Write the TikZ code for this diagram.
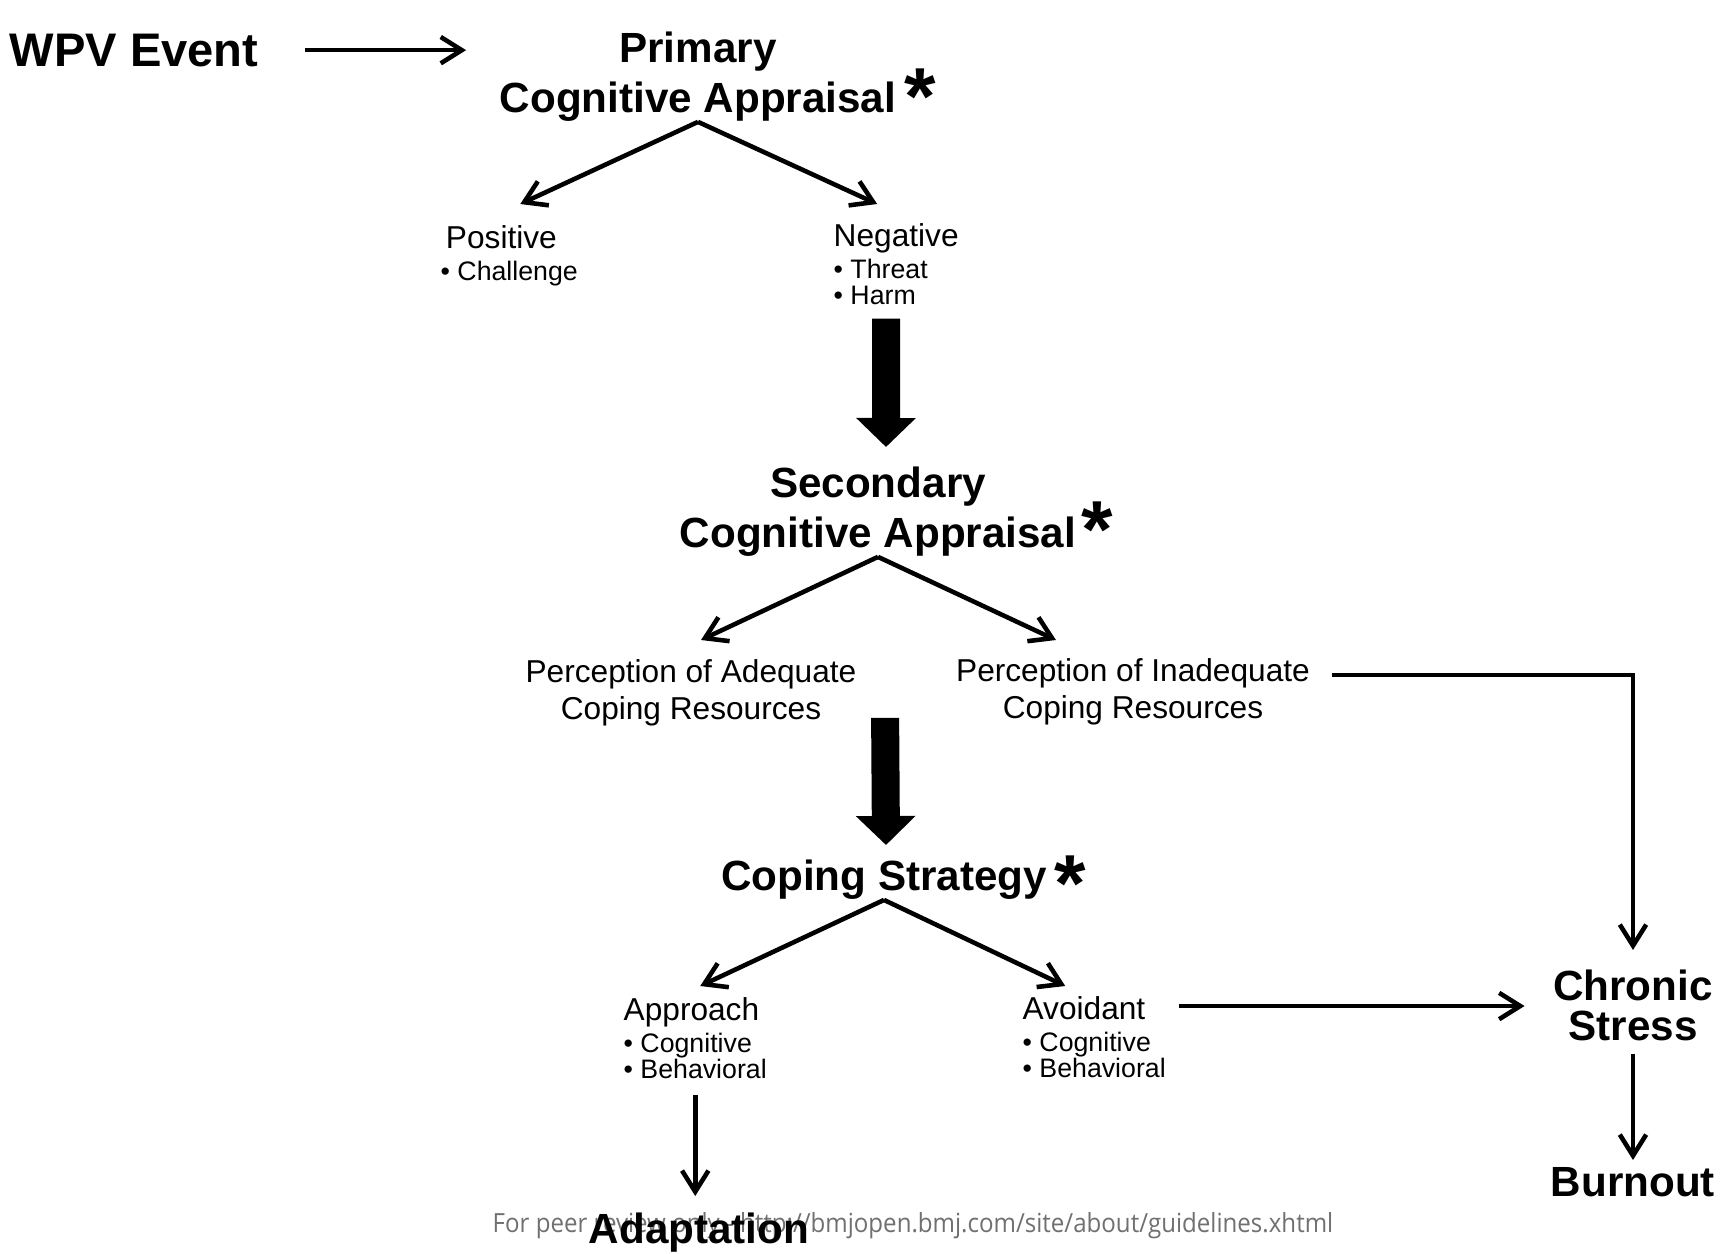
\documentclass[tikz,border=0pt]{standalone}
\usepackage{fontspec}
\setmainfont{Liberation Sans}
\newfontfamily\footfont{Open Sans}
\usepackage{graphicx}
\usetikzlibrary{positioning,arrows.meta}
\definecolor{FootGray}{HTML}{707070}
\newcommand{\bitem}[1]{\fontsize{7.6}{7.4}\selectfont • #1}

\begin{document}
\begin{tikzpicture}[x=0.01cm,y=-0.01cm,>={Straight Barb[length=6pt,width=7.5pt]}]
  \tikzstyle{headtxt}=[font=\bfseries\fontsize{12}{14.2}\selectfont,
    align=center,inner sep=0pt,anchor=north]
  \tikzstyle{subtxt}=[font=\fontsize{9}{10.5}\selectfont,
    align=center,inner sep=0pt,anchor=north]
  \tikzstyle{listtxt}=[font=\fontsize{9}{7.4}\selectfont,
    align=left,inner sep=0pt,anchor=north west]
  \tikzstyle{astmark}=[font=\bfseries\fontsize{23}{23}\selectfont,
    inner sep=0pt,anchor=base]
  \tikzstyle{arr}=[->,line width=1.3pt]
  \tikzstyle{bigarr}=[-{Triangle[width=0.58cm,length=0.29cm]},line width=0.28cm]
  \useasboundingbox (0,0) rectangle (1729,1253);

  % appraisal chain
  \node[headtxt,font=\bfseries\fontsize{13.4}{15}\selectfont] (wpv) at (134,33) {WPV Event};
  \node[headtxt] (prim) at (698,31) {Primary\\Cognitive Appraisal};
  \node[astmark] (ast1) at (920,124) {*};
  \node[listtxt] (pos) at (440,225) {\hspace{1.5pt}Positive\\[1.7pt]\bitem{Challenge}};
  \node[listtxt] (neg) at (833,223) {Negative\\[1.7pt]\bitem{Threat}\\\bitem{Harm}};
  \node[headtxt] (sec) at (878,466) {Secondary\\Cognitive Appraisal};
  \node[astmark] (ast2) at (1097,557) {*};
  \node[subtxt] (adq) at (691,659) {Perception of Adequate\\Coping Resources};
  \node[subtxt] (inadq) at (1133,658) {Perception of Inadequate\\Coping Resources};
  \node[headtxt] (cope) at (884,859) {Coping Strategy};
  \node[astmark] (ast3) at (1070,911) {*};
  \node[listtxt] (appr) at (623,997) {Approach\\[1.7pt]\bitem{Cognitive}\\\bitem{Behavioral}};
  \node[listtxt] (avoid) at (1022,996) {Avoidant\\[1.7pt]\bitem{Cognitive}\\\bitem{Behavioral}};
  \node[headtxt,font=\bfseries\fontsize{12}{11.4}\selectfont] (chron) at (1633,969) {Chronic\\Stress};
  \node[headtxt] (burn) at (1633,1167) {Burnout};

  % footer line of the page
  \node[inner sep=0pt,text=FootGray] (foot) at (913,1226)
    {\resizebox{8.4cm}{\height}{\footfont\fontsize{7.5}{8}\selectfont
     For peer review only - http://bmjopen.bmj.com/site/about/guidelines.xhtml}};
  \node[headtxt] (adapt) at (699,1212) {Adaptation};

  \coordinate (inadqout) at ([xshift=0.21cm,yshift=-0.17cm]inadq.north east);
  \coordinate (avoidout) at ([xshift=0.13cm,yshift=-0.1cm]avoid.north east);

  \draw[arr,shorten <=0.46cm,shorten >=0.33cm] (wpv.east) -- (wpv.east -| prim.west);
  \draw[arr] (prim.south) -- ([xshift=0.11cm,yshift=0.21cm]pos.north);
  \draw[arr] (prim.south) -- ([xshift=-0.19cm,yshift=0.19cm]neg.north);
  \draw[bigarr] ([xshift=-0.1cm,yshift=-0.13cm]neg.south) -- ([xshift=0.08cm,yshift=0.19cm]sec.north);
  \draw[arr] (sec.south) -- ([xshift=0.1cm,yshift=0.19cm]adq.north);
  \draw[arr] (sec.south) -- ([xshift=-0.77cm,yshift=0.18cm]inadq.north);
  \draw[bigarr] ([xshift=1.94cm,yshift=0.09cm]adq.south) -- ([xshift=0.02cm,yshift=0.14cm]cope.north);
  \draw[arr] (cope.south) -- ([xshift=0.05cm,yshift=0.11cm]appr.north);
  \draw[arr] (cope.south) -- ([xshift=-0.29cm,yshift=0.1cm]avoid.north);
  \draw[arr,shorten >=0.19cm] (inadqout) -| (chron.north);
  \draw[arr,shorten >=0.28cm] (avoidout) -- (avoidout -| chron.west);
  \draw[arr,shorten <=0.12cm,shorten >=0.07cm] (chron.south) -- (burn.north);
  \draw[arr,shorten <=0.15cm,shorten >=0.16cm] (appr.south) -- (appr.south |- adapt.north);
\end{tikzpicture}
\end{document}
